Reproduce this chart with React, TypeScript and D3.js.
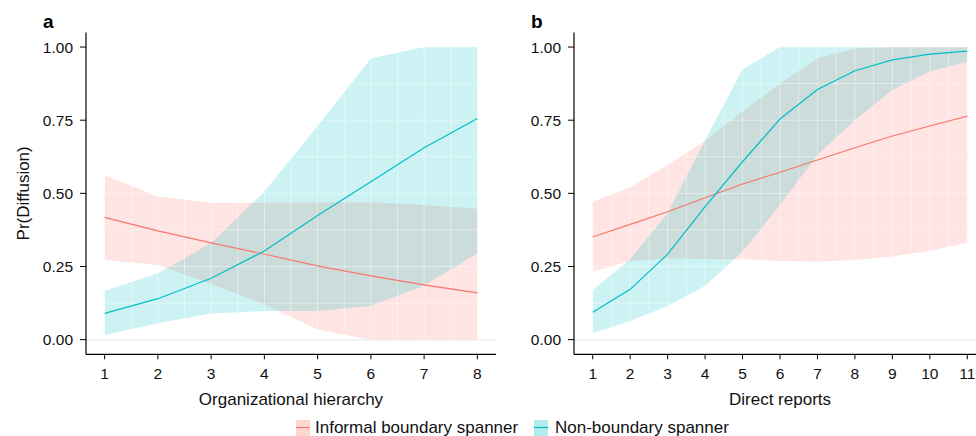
import React from 'react';
import * as d3 from 'd3';

// panel a: organizational hierarchy
const orgLevels = [1, 2, 3, 4, 5, 6, 7, 8];
const informalFitA = [0.418, 0.372, 0.331, 0.292, 0.252, 0.218, 0.187, 0.16];
const informalLowA = [0.272, 0.255, 0.19, 0.12, 0.035, 0.0, 0.0, 0.0];
const informalHighA = [0.563, 0.489, 0.468, 0.468, 0.47, 0.47, 0.46, 0.447];
const nonFitA = [0.09, 0.14, 0.21, 0.303, 0.424, 0.54, 0.656, 0.756];
const nonLowA = [0.016, 0.056, 0.089, 0.098, 0.098, 0.115, 0.185, 0.295];
const nonHighA = [0.167, 0.227, 0.33, 0.506, 0.73, 0.961, 1.0, 1.0];

// panel b: direct reports
const directReports = [1, 2, 3, 4, 5, 6, 7, 8, 9, 10, 11];
const informalFitB = [0.351, 0.394, 0.437, 0.485, 0.532, 0.572, 0.614, 0.656, 0.696, 0.73, 0.764];
const informalLowB = [0.232, 0.269, 0.277, 0.276, 0.275, 0.269, 0.266, 0.272, 0.284, 0.304, 0.331];
const informalHighB = [0.471, 0.521, 0.597, 0.68, 0.78, 0.875, 0.961, 0.995, 1.0, 1.0, 1.0];
const nonFitB = [0.094, 0.172, 0.292, 0.455, 0.608, 0.754, 0.855, 0.919, 0.956, 0.976, 0.986];
const nonLowB = [0.022, 0.064, 0.115, 0.183, 0.301, 0.46, 0.631, 0.751, 0.853, 0.916, 0.95];
const nonHighB = [0.17, 0.275, 0.432, 0.682, 0.924, 1.0, 1.0, 1.0, 1.0, 1.0, 1.0];

const yTicks = [0, 0.25, 0.5, 0.75, 1];
const groupNames = ['Informal boundary spanner', 'Non-boundary spanner'];
const groupColors = ['#F8766D', '#00BFC4'];

const FONT = 'Liberation Sans, Arial, Helvetica, sans-serif';

const Panel = ({ label, title, xs, series, left, right, showYTitle }) => {
  // ggplot style 5% expansion on both axes
  const pad = (xs[xs.length - 1] - xs[0]) * 0.05;
  const x = d3.scaleLinear().domain([xs[0] - pad, xs[xs.length - 1] + pad]).range([left, right]);
  const y = d3.scaleLinear().domain([-0.05, 1.05]).range([354.3, 32.4]);

  const area = d3.area()
    .x((d) => x(d.x))
    .y0((d) => y(d.lo))
    .y1((d) => y(d.hi));
  const line = d3.line()
    .x((d) => x(d.x))
    .y((d) => y(d.fit));

  const rows = series.map((s) =>
    xs.map((v, i) => ({ x: v, fit: s.fit[i], lo: s.lo[i], hi: s.hi[i] }))
  );

  const xMinor = d3.range(xs[0] - 0.5, xs[xs.length - 1] + 1, 0.5).filter((v) => x(v) >= left && x(v) <= right);
  const yMinor = d3.range(0, 1.01, 0.125);
  const top = y(1.05);
  const bottom = y(-0.05);

  return (
    <g>
      <line x1={left} x2={right} y1={y(0)} y2={y(0)} stroke="#ebebeb" strokeWidth={1.5} />
      {rows.map((r, i) => (
        <path key={'a' + i} d={area(r)} fill={groupColors[i]} fillOpacity={0.2} />
      ))}
      {/* faint white grid visible over the ribbons */}
      <g stroke="#ffffff" strokeOpacity={0.45} strokeWidth={1}>
        {xMinor.map((v) => (
          <line key={'gx' + v} x1={x(v)} x2={x(v)} y1={top} y2={bottom} />
        ))}
        {yMinor.map((v) => (
          <line key={'gy' + v} x1={left} x2={right} y1={y(v)} y2={y(v)} />
        ))}
      </g>
      {rows.map((r, i) => (
        <path key={'l' + i} d={line(r)} fill="none" stroke={groupColors[i]} strokeWidth={1.2} />
      ))}

      {/* axes */}
      <line x1={left} x2={left} y1={top} y2={bottom} stroke="#000" strokeWidth={1.2} />
      <line x1={left} x2={right} y1={bottom} y2={bottom} stroke="#000" strokeWidth={1.2} />
      {yTicks.map((t) => (
        <g key={'yt' + t}>
          <line x1={left - 6} x2={left} y1={y(t)} y2={y(t)} stroke="#000" strokeWidth={1} />
          <text x={left - 13} y={y(t)} dy="0.36em" textAnchor="end" fontSize={15.5} fill="#111">
            {d3.format('.2f')(t)}
          </text>
        </g>
      ))}
      {xs.map((t) => (
        <g key={'xt' + t}>
          <line x1={x(t)} x2={x(t)} y1={bottom} y2={bottom + 5} stroke="#000" strokeWidth={1} />
          <text x={x(t)} y={379} textAnchor="middle" fontSize={15.5} fill="#111">
            {t}
          </text>
        </g>
      ))}
      <text x={(left + right) / 2} y={405} textAnchor="middle" fontSize={17} fill="#111">
        {title}
      </text>
      {showYTitle && (
        <text transform={`translate(29,${(top + bottom) / 2}) rotate(-90)`} textAnchor="middle" fontSize={17} fill="#111">
          Pr(Diffusion)
        </text>
      )}
      <text x={left - 43} y={28} fontSize={19} fontWeight="bold" fill="#000">
        {label}
      </text>
    </g>
  );
};

const Legend = () => {
  const items = [
    { key: 296, text: 315 },
    { key: 534, text: 555 },
  ];
  return (
    <g>
      {items.map((it, i) => (
        <g key={groupNames[i]}>
          <rect x={it.key} y={420} width={14} height={17} fill={groupColors[i]} fillOpacity={0.3} />
          <line x1={it.key} x2={it.key + 14} y1={427.5} y2={427.5} stroke={groupColors[i]} strokeWidth={1.2} />
          <text x={it.text} y={433} fontSize={17} fill="#111">
            {groupNames[i]}
          </text>
        </g>
      ))}
    </g>
  );
};

export default function App() {
  return (
    <svg
      width={976}
      height={436}
      style={{ position: 'absolute', left: 0, top: 0, background: '#fff', fontFamily: FONT }}
    >
      <Panel
        label="a"
        title="Organizational hierarchy"
        xs={orgLevels}
        left={86}
        right={496}
        showYTitle
        series={[
          { fit: informalFitA, lo: informalLowA, hi: informalHighA },
          { fit: nonFitA, lo: nonLowA, hi: nonHighA },
        ]}
      />
      <Panel
        label="b"
        title="Direct reports"
        xs={directReports}
        left={574}
        right={986}
        showYTitle={false}
        series={[
          { fit: informalFitB, lo: informalLowB, hi: informalHighB },
          { fit: nonFitB, lo: nonLowB, hi: nonHighB },
        ]}
      />
      <Legend />
    </svg>
  );
}
